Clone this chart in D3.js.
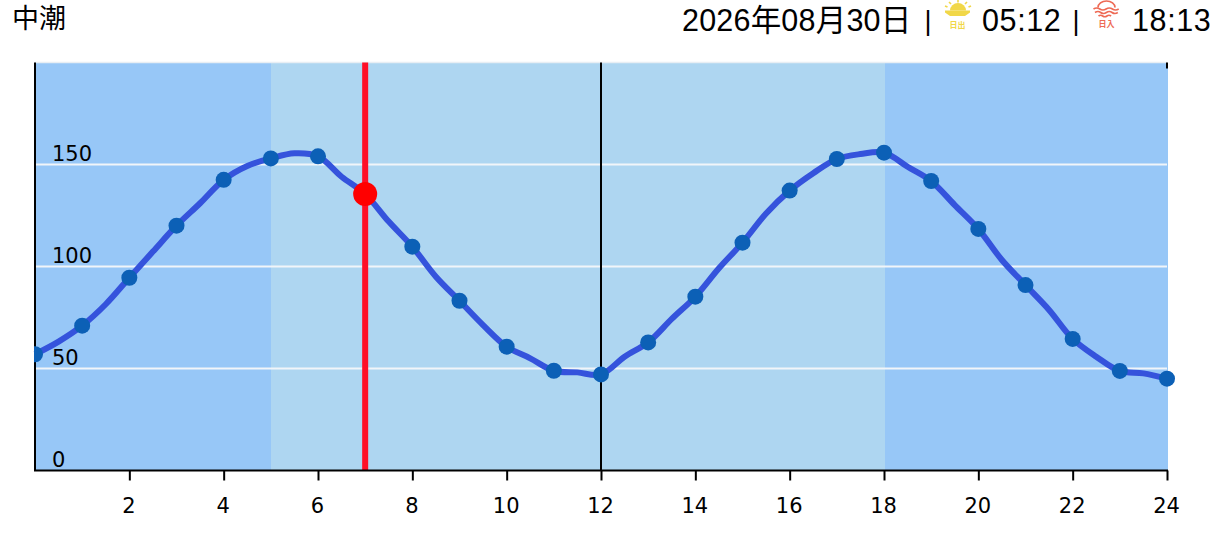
<!DOCTYPE html>
<html><head><meta charset="utf-8">
<script src="https://cdn.jsdelivr.net/npm/d3@7"></script>
<style>html,body{margin:0;padding:0;background:#fff}svg{display:block}
.cjk{font-family:"Liberation Sans","Noto Sans CJK JP",sans-serif}
.ax{font-family:"DejaVu Sans",sans-serif;font-size:21px;fill:#000}</style>
</head><body><svg id="c" width="1229" height="533"></svg>
<script>
const hours=[0,1,2,3,4,5,6,7,8,9,10,11,12,13,14,15,16,17,18,19,20,21,22,23,24];
const tide=[57,71,94.5,120,142.5,153,154,135.5,109.7,83.2,60.7,48.9,47.1,62.8,85.2,111.7,137.2,152.7,155.8,141.9,118.4,90.9,64.5,48.8,45];
const halfHours=[0.5,1.5,2.5,3.5,4.5,5.5,6.5,7.5,8.5,9.5,10.5,11.5,12.5,13.5,14.5,15.5,16.5,17.5,18.5,19.5,20.5,21.5,22.5,23.5];
const halfTide=[63.2,81.5,107.3,131,149.3,155.5,144,122,95,71.3,55,48.1,55.8,74.3,99.1,126,145.7,155.1,148.9,130.1,103.2,78.7,55.8,47.6];
const xTicks=[2,4,6,8,10,12,14,16,18,20,22,24];
const yTicks=[0,50,100,150];
const dayBands=[[0,5,"#97c7f7"],[5,18,"#aed6f1"],[18,24,"#97c7f7"]];
const noonHour=12, nowHour=7, nowTide=135.5;
const tideName="中潮", dateText="2026年08月30日", sunrise="05:12", sunset="18:13";

const svg=d3.select("#c");
const x=d3.scaleLinear().domain([0,24]).range([35,1167]);
const y=d3.scaleLinear().domain([0,200]).range([470.5,62.5]);
const edge=h=>Math.round(x(h)+0.5);

svg.selectAll("rect.band").data(dayBands).join("rect").attr("class","band")
 .attr("x",d=>edge(d[0])).attr("width",d=>edge(d[1])-edge(d[0]))
 .attr("y",y(200)).attr("height",y(0)-y(200)).attr("fill",d=>d[2]).attr("shape-rendering","crispEdges");
svg.selectAll("line.grid").data(yTicks.slice(1)).join("line").attr("class","grid")
 .attr("x1",x(0)).attr("x2",x(24)).attr("y1",d=>y(d)).attr("y2",d=>y(d))
 .attr("stroke","#f1f5f9").attr("stroke-width",2);
svg.append("line").attr("x1",x(0)).attr("x2",x(24)).attr("y1",y(200)).attr("y2",y(200)).attr("stroke","#e8eef4").attr("stroke-width",1.5);

svg.append("line").attr("x1",x(noonHour)).attr("x2",x(noonHour)).attr("y1",y(200)).attr("y2",y(0)).attr("stroke","#000").attr("stroke-width",2);
svg.append("line").attr("x1",x(24)).attr("x2",x(24)).attr("y1",y(200)).attr("y2",y(197)).attr("stroke","#000").attr("stroke-width",2);
svg.append("line").attr("x1",x(0)).attr("x2",x(0)).attr("y1",y(200)).attr("y2",y(0)).attr("stroke","#000").attr("stroke-width",2);

svg.append("line").attr("x1",x(nowHour)).attr("x2",x(nowHour)).attr("y1",y(200)).attr("y2",y(0)).attr("stroke","#ff0f27").attr("stroke-width",6);

const linePts=hours.map((h,i)=>[h,tide[i]]).concat(halfHours.map((h,i)=>[h,halfTide[i]])).sort((a,b)=>a[0]-b[0]);
const line=d3.line().x(d=>x(d[0])).y(d=>y(d[1])).curve(d3.curveCatmullRom.alpha(0.5));
svg.append("path").datum(linePts).attr("d",line).attr("fill","none").attr("stroke","#3553dc").attr("stroke-width",6);

svg.append("clipPath").attr("id","pl").append("rect").attr("x",x(0)-1).attr("y",0).attr("width",1200).attr("height",533);
svg.append("g").attr("clip-path","url(#pl)").selectAll("circle").data(tide).join("circle")
 .attr("cx",(d,i)=>x(hours[i])).attr("cy",d=>y(d)).attr("r",8).attr("fill","#0c60b6");
svg.append("circle").attr("cx",x(nowHour)).attr("cy",y(nowTide)).attr("r",12).attr("fill","#ff0000");

const xa=svg.append("g").attr("transform",`translate(0,${y(0)})`)
 .call(d3.axisBottom(x).tickValues(xTicks).tickSize(10).tickSizeOuter(0).tickPadding(18));
xa.select(".domain").attr("stroke","#000").attr("stroke-width",2).attr("d",`M${x(0)-1},0H${x(24)+1}`);
xa.selectAll(".tick line").attr("stroke","#000").attr("stroke-width",2);
xa.selectAll("text").attr("class","ax").attr("font-family",null).attr("font-size",null).attr("dx",-1);

svg.selectAll("text.yl").data(yTicks).join("text").attr("class","yl ax")
 .attr("x",52).attr("y",d=>y(d)-3.5).text(d=>d);

svg.append("text").attr("class","cjk").attr("x",12).attr("y",28).attr("font-size",27).attr("fill","#000").text(tideName);
const hdr=(t,xp,fs,ls)=>svg.append("text").attr("class","cjk").attr("x",xp).attr("y",31).attr("font-size",fs).attr("letter-spacing",ls).attr("fill","#000").text(t);
hdr(dateText,682,30.5,0.2);
hdr("|",924.5,27,0).attr("y",30);
hdr(sunrise,982,30.5,0.6);
hdr("|",1072.5,27,0).attr("y",30);
hdr(sunset,1132,30.5,0.6);

// sunrise icon
const sunCol="#f1d748";
const si=svg.append("g");
si.append("path").attr("d","M950,10.5 a8,7.5 0 0 1 16,0 Z").attr("fill",sunCol);
si.append("path").attr("d","M945,10.5 H970 V12.5 L965,16 H950 L945,12.5 Z").attr("fill",sunCol);
[[958,0,958,2.5],[949,2,951,4],[967,2,965,4],[945,6,947.5,7],[971,6,968.5,7]].forEach(a=>si.append("line").attr("x1",a[0]).attr("y1",a[1]).attr("x2",a[2]).attr("y2",a[3]).attr("stroke",sunCol).attr("stroke-width",1.6));
svg.append("text").attr("class","cjk").attr("x",957.5).attr("y",28).attr("text-anchor","middle").attr("font-size",8).attr("font-weight",700).attr("fill",sunCol).text("日出");

// sunset icon
const ss=svg.append("g").attr("fill","none").attr("stroke","#ee6a55").attr("stroke-width",1.7);
ss.append("path").attr("d","M1098,7.5 a8.5,6.5 0 0 1 17,0");
["M1093.5,9 q3.2,-2 6.3,0 t6.3,0 t6.3,0 t6.3,0","M1095,12.5 q3,-2 5.7,0 t5.7,0 t5.7,0 t5.7,0","M1098.5,16 q2,-1.5 4.2,0 t4.2,0 t4.2,0"].forEach(p=>ss.append("path").attr("d",p));
svg.append("text").attr("class","cjk").attr("x",1106.5).attr("y",27).attr("text-anchor","middle").attr("font-size",8).attr("font-weight",700).attr("fill","#ee6a55").text("日入");
</script></body></html>
